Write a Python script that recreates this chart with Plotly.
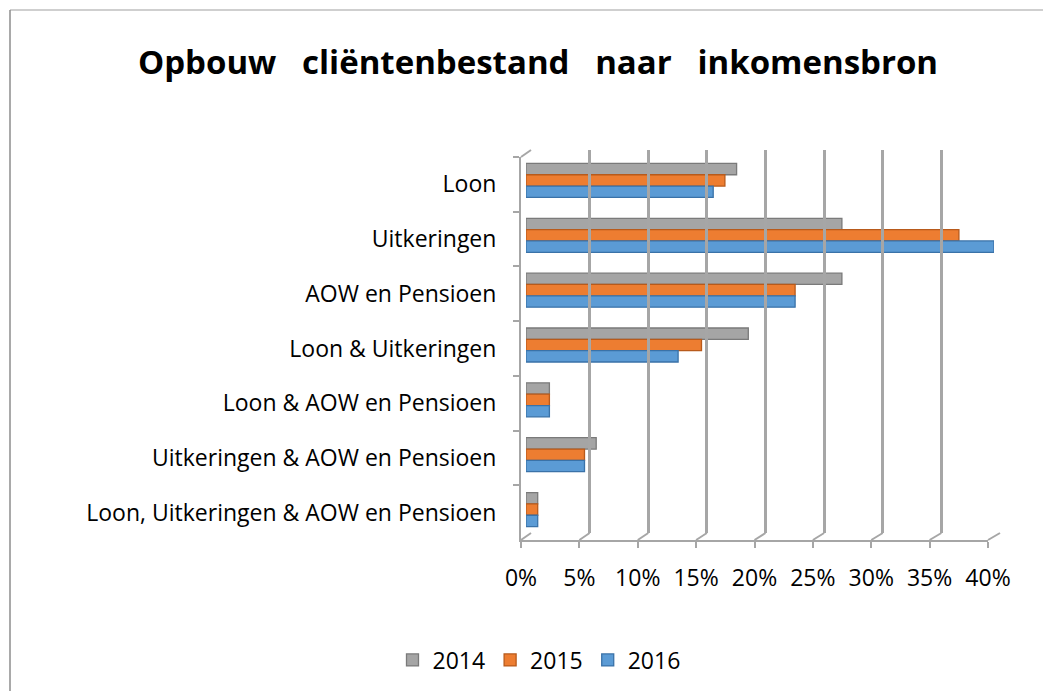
import plotly.graph_objects as go

categories = ["Loon", "Uitkeringen", "AOW en Pensioen", "Loon & Uitkeringen",
              "Loon & AOW en Pensioen", "Uitkeringen & AOW en Pensioen",
              "Loon, Uitkeringen & AOW en Pensioen"]
years = ["2014", "2015", "2016"]
v2014 = [18, 27, 27, 19, 2, 6, 1]
v2015 = [17, 37, 23, 15, 2, 5, 1]
v2016 = [16, 40, 23, 13, 2, 5, 1]
x_ticks = [0, 5, 10, 15, 20, 25, 30, 35, 40]
title_words = ["Opbouw", "cliëntenbestand", "naar", "inkomensbron"]

colors = ["#A5A5A5", "#ED7D31", "#5B9BD5"]
edge = ["#7A7A7A", "#B85A1B", "#3A72A8"]
series = [v2014, v2015, v2016]

W, H = 1051, 691
OX, OY = 8, 8  # page body offset compensation

# pixel geometry of the three layers (front axis, bars, back wall)
FRONT = dict(x=(521, 988), y=(157, 540))
BARS = dict(x=(526, 994), y=(153, 537))
BACK = dict(x=(531, 1000), y=(150, 533))
XMAX = 40


def px(a, b):
    return [(a - OX) / W, (b - OX) / W]


def py(top, bottom):
    return [1 - (bottom - OY) / H, 1 - (top - OY) / H]


def fx(a):
    return (a - OX) / W


def fy(b):
    return 1 - (b - OY) / H


FONT = "Open Sans"
GRID = "#A6A6A6"

fig = go.Figure()

# back wall gridlines (x3/y3)
fig.add_trace(go.Scatter(x=v2014, y=categories, xaxis="x3", yaxis="y3",
                         mode="markers", marker=dict(opacity=0),
                         showlegend=False, hoverinfo="skip"))
# bars (x2/y2)
for name, vals, c, e in zip(years, series, colors, edge):
    fig.add_trace(go.Bar(name=name, y=categories, x=vals, orientation="h",
                         xaxis="x2", yaxis="y2",
                         marker=dict(color=c, line=dict(color=e, width=1.3))))
# front axes (x/y)
fig.add_trace(go.Scatter(x=v2014, y=categories, xaxis="x", yaxis="y",
                         mode="markers", marker=dict(opacity=0),
                         showlegend=False, hoverinfo="skip"))

cat_common = dict(type="category", categoryorder="array", categoryarray=categories,
                  range=[6.5, -0.5], automargin=False)

title_text = "<b>" + " \u00a0\u00a0".join(title_words) + "</b>"


# floor connectors between front axis ticks and back wall gridlines
def lerp(rng, v):
    return rng[0] + (rng[1] - rng[0]) * v / XMAX


shapes = []
for t in x_ticks:
    shapes.append(dict(type="line", xref="paper", yref="paper",
                       x0=fx(lerp(FRONT["x"], t)), y0=fy(FRONT["y"][1]),
                       x1=fx(lerp(BACK["x"], t)), y1=fy(BACK["y"][1]),
                       line=dict(color=GRID, width=2)))
shapes.append(dict(type="line", xref="paper", yref="paper",
                   x0=fx(FRONT["x"][0]), y0=fy(FRONT["y"][0]),
                   x1=fx(BACK["x"][0]), y1=fy(BACK["y"][0]),
                   line=dict(color=GRID, width=2)))
shapes += [
    dict(type="line", xref="paper", yref="paper", x0=fx(10), x1=1,
         y0=fy(10), y1=fy(10), line=dict(color="#BFBFBF", width=1.5)),
    dict(type="line", xref="paper", yref="paper", x0=fx(10), x1=fx(10),
         y0=0, y1=fy(10), line=dict(color="#8C8C8C", width=1.5)),
]

fig.update_layout(
    width=W, height=H,
    margin=dict(l=0, r=0, t=0, b=0, pad=0, autoexpand=False),
    paper_bgcolor="white", plot_bgcolor="rgba(0,0,0,0)",
    font=dict(family=FONT, size=23, color="#000000"),
    title=dict(text=title_text,
               x=fx(538), xanchor="center", y=fy(62), yanchor="middle",
               font=dict(family=FONT, size=33, color="#000000")),
    barmode="group", bargap=0.38, bargroupgap=0.0,
    xaxis=dict(domain=px(*FRONT["x"]), range=[0, XMAX], tickvals=x_ticks,
               ticktext=[f"{t}%" for t in x_ticks], automargin=False,
               showgrid=False, zeroline=False, showline=True, linecolor=GRID,
               linewidth=2, ticks="outside", ticklen=6, tickcolor=GRID,
               tickwidth=1.5, anchor="y", ticklabelstandoff=10,
               tickfont=dict(size=23)),
    yaxis=dict(domain=py(*FRONT["y"]), **cat_common, showgrid=False,
               showline=True, linecolor=GRID, linewidth=2, ticks="outside",
               tickson="boundaries", ticklen=6, tickcolor=GRID, tickwidth=1.5,
               anchor="x", ticklabelstandoff=18, tickfont=dict(size=23)),
    xaxis2=dict(domain=px(*BARS["x"]), range=[0, XMAX], anchor="y2",
                automargin=False, showgrid=False, zeroline=False,
                showticklabels=False, showline=False),
    yaxis2=dict(domain=py(*BARS["y"]), **cat_common, anchor="x2",
                showgrid=False, showticklabels=False, showline=False),
    xaxis3=dict(domain=px(*BACK["x"]), range=[0, XMAX], tickvals=x_ticks,
                anchor="y3", showgrid=True, gridcolor=GRID, gridwidth=2.5,
                automargin=False, zeroline=False, showticklabels=False,
                showline=False),
    yaxis3=dict(domain=py(*BACK["y"]), **cat_common, anchor="x3",
                showgrid=False, showticklabels=False, showline=False),
    legend=dict(orientation="h", x=fx(539), xanchor="center", y=fy(660),
                yanchor="middle", font=dict(size=23), itemwidth=30,
                traceorder="normal"),
    shapes=shapes,
)

fig.write_html("out.html")
